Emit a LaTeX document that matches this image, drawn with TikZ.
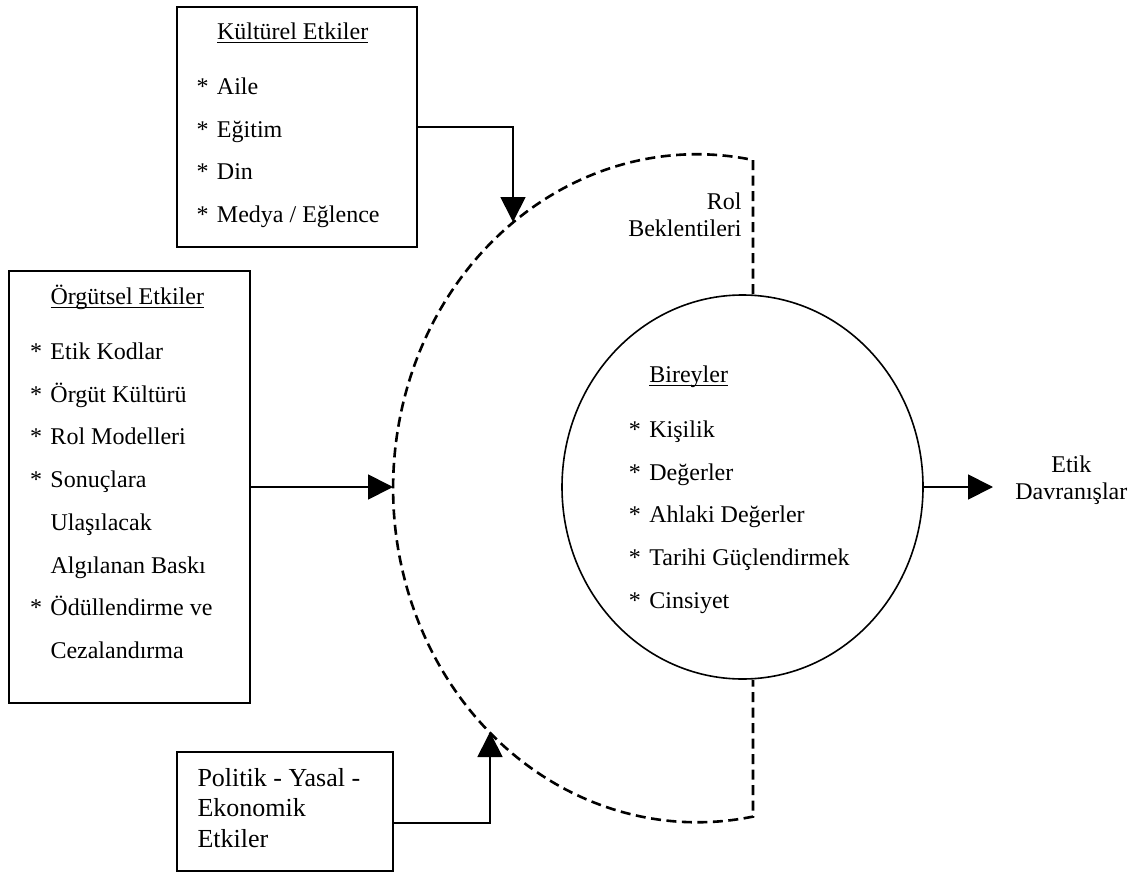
\documentclass[tikz,border=0pt]{standalone}
\usepackage{fontspec}
\setmainfont{Liberation Serif}
\usetikzlibrary{arrows.meta,positioning,shapes.geometric}

\newcommand{\bosluk}{\hspace*{10.25pt}}
\newcommand{\baslik}[1]{\bosluk\underline{\smash{#1}}}
\newcommand{\madde}{\makebox[10.25pt][l]{*}}

\begin{document}
\begin{tikzpicture}[x=0.5pt,y=-0.5pt,>={Triangle[length=12.5pt,width=12.5pt]},
    kutu/.style={draw,rectangle,line width=0.9pt,inner sep=0pt},
    liste/.style={align=left,inner sep=0pt,font=\fontsize{12}{21.35}\selectfont},
    yazi/.style={inner sep=0pt,font=\fontsize{12}{13.75}\selectfont},
    kesik/.style={dash pattern=on 5pt off 2.75pt,line width=1.3pt},
    ok/.style={->,line width=0.9pt}]
    \useasboundingbox (0,0) rectangle (1135,872);

    % kutular ve birey
    \node[kutu,minimum width=120pt,minimum height=120pt] (kultur) at (297,127) {};
    \node[kutu,minimum width=120.5pt,minimum height=216pt] (orgut) at (129.5,487) {};
    \node[kutu,minimum width=108pt,minimum height=59.75pt] (politik) at (285,811.5) {};
    \node[draw,ellipse,line width=0.8pt,minimum width=180.5pt,minimum height=192pt,
          inner sep=0pt] (birey) at (742.5,487) {};

    % yazilar
    \node[liste,below right=5.5pt and 10pt of kultur.north west] (kulturyazi)
        {\rule{0pt}{11pt}\baslik{Kültürel Etkiler}\\[6.15pt]
         \madde Aile\\ \madde Eğitim\\ \madde Din\\ \madde Medya / Eğlence};
    \node[liste,below right=6pt and 10.75pt of orgut.north west] (orgutyazi)
        {\rule{0pt}{11pt}\baslik{Örgütsel Etkiler}\\[6.15pt]
         \madde Etik Kodlar\\ \madde Örgüt Kültürü\\ \madde Rol Modelleri\\
         \madde Sonuçlara\\ \bosluk Ulaşılacak\\ \bosluk Algılanan Baskı\\
         \madde Ödüllendirme ve\\ \bosluk Cezalandırma};
    \node[liste,anchor=north west] (bireyyazi) at (628.5,360)
        {\rule{0pt}{11pt}\baslik{Bireyler}\\[6.15pt]
         \madde Kişilik\\ \madde Değerler\\ \madde Ahlaki Değerler\\
         \madde Tarihi Güçlendirmek\\ \madde Cinsiyet};
    \node[align=left,inner sep=0pt,font=\fontsize{13}{15.25}\selectfont,
          below right=6.5pt and 10.5pt of politik.north west] (politikyazi)
        {\rule{0pt}{11pt}Politik - Yasal -\\ Ekonomik\\ Etkiler};

    \coordinate (kulturuc) at (513,222);
    \coordinate (orgutuc) at (393,487);
    \coordinate (politikuc) at (490,732);
    \coordinate (rolust) at (753,160);
    \coordinate (cikis) at (993,487);

    \node[yazi,align=right,below left=16pt and 5.5pt of rolust] (rol) {Rol\\Beklentileri};
    \node[yazi,align=center,right=11pt of cikis,yshift=3.4pt] (davranis) {Etik\\Davranışlar};

    % rol beklentileri
    \draw[kesik] (rolust |- birey.north) -- (rolust)
        arc[start angle=-79.4,end angle=-280.6,x radius=304,y radius=334]
        -- (rolust |- birey.south);

    % oklar
    \draw[ok] (kultur.east) -| (kulturuc);
    \draw[ok] (orgut.east) -- (orgutuc);
    \draw[ok] ([yshift=-5.75pt]politik.east) -| (politikuc);
    \draw[ok] (birey.east) -- (cikis);
\end{tikzpicture}
\end{document}
